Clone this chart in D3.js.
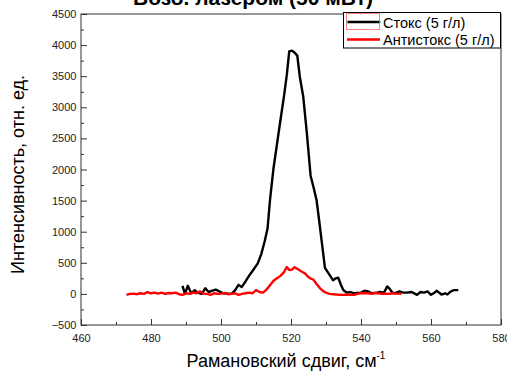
<!DOCTYPE html>
<html>
<head>
<meta charset="utf-8">
<script src="https://cdn.jsdelivr.net/npm/d3@7"></script>
<style>
  html, body { margin: 0; padding: 0; background: #fff; }
  svg { display: block; font-family: "Liberation Sans", Arial, sans-serif; }
</style>
</head>
<body>
<div id="chart"></div>
<script>
// Stokes (5 g/l) — black
const stokesX = [489, 489.7, 490.5, 491.5, 492.5, 493.3, 494.5, 495.5, 496.5, 497.3, 498.5, 499.5, 500.6, 502, 503,
  504, 505, 505.9, 507, 508, 509.2, 510.5, 511.5, 512.5, 513.3, 514, 515, 516, 517, 518, 518.8, 519.5, 520.3, 521,
  521.8, 522.5, 523.5, 524.5, 525.6, 526.5, 527.3, 528, 529, 529.7, 530.5, 531.2, 532, 532.8, 533.5, 534.3, 535,
  536, 537, 538, 539, 540, 541, 542, 543, 544.5, 545.5, 546.5, 547.5, 548.2, 549, 550, 551, 552, 553, 554.5, 556,
  557, 558, 559, 560, 561, 561.6, 563, 564, 564.7, 565.4, 566.5, 567.8];
const stokesY = [130, 0, 130, 10, 60, 20, 0, 90, 30, 50, 70, 40, 10, 5, 0,
  55, 145, 110, 200, 290, 385, 490, 640, 850, 1050, 1510, 2020, 2410, 2800, 3180, 3520, 3900, 3910, 3880,
  3830, 3500, 3170, 2600, 1900, 1700, 1510, 1200, 740, 420, 350, 290, 220, 250, 260, 140, 60,
  20, 30, 10, 15, 20, 50, 40, 10, 20, 30, 15, 120, 80, 20, 15, 40, 20, 20, 30, -15,
  30, 20, 40, -15, 20, 50, -10, 10, -10, 30, 60, 60];

// Anti-Stokes (5 g/l) — red
const antiX = [473, 474, 475, 476, 477, 478, 479, 480, 481, 482, 483, 484, 485, 486, 487, 488, 489, 490, 491, 492,
  493, 494, 495, 496, 497, 498, 499, 500, 501, 502, 503, 504, 505, 506, 507, 508, 509, 510, 511, 512, 513, 514,
  515, 516, 517, 518, 518.8, 519.5, 520.3, 521, 522, 523, 524, 524.8, 525.5, 526.4, 527.3, 528.3, 529.3, 530.2,
  531, 532, 533, 534, 535, 536, 537, 538, 539, 540, 541, 542, 543, 544, 545, 546, 547, 548, 549, 550, 551.5];
const antiY = [-15, 0, 5, -5, 10, 0, 30, 10, 20, 5, 20, 0, 15, 10, 20, -5, -15, 10, 0, 20,
  10, 40, 5, 0, -15, 10, 0, 5, 15, -5, 0, 10, -15, 0, 10, 20, 10, 60, 30, 20, 70, 140,
  210, 250, 290, 350, 430, 385, 390, 430, 395, 360, 330, 280, 250, 230, 160, 90, 40, 15,
  0, -5, -10, -15, -15, -10, -15, -15, 0, 10, 15, 10, 0, 15, 10, 0, 5, 0, 10, 5, 0];

const xTicks = [460, 480, 500, 520, 540, 560, 580];
const yTicks = [-500, 0, 500, 1000, 1500, 2000, 2500, 3000, 3500, 4000, 4500];
const legendLabels = ['Стокс (5 г/л)', 'Антистокс (5 г/л)'];

const width = 507, height = 379;
const margin = { top: 14, right: 6, bottom: 54, left: 81 };

const svg = d3.select('#chart').append('svg')
  .attr('width', width).attr('height', height);

const x = d3.scaleLinear().domain([460, 580]).range([margin.left, width - margin.right]);
const y = d3.scaleLinear().domain([-500, 4500]).range([height - margin.bottom, margin.top]);

// title, clipped by the top edge as in the original
svg.append('text')
  .attr('x', 253).attr('y', 5)
  .attr('text-anchor', 'middle')
  .attr('font-size', 21).attr('font-weight', 700)
  .attr('fill', '#000')
  .text('Возб. лазером (50 мВт)');

const axisColor = '#333';
const fmt = d3.format('d');

// bottom axis, ticks inward
const xAxis = svg.append('g')
  .attr('transform', `translate(0,${y(-500)})`)
  .call(d3.axisBottom(x).tickValues(xTicks).tickFormat(fmt).tickSizeInner(-6).tickSizeOuter(0).tickPadding(9));
const xMinor = svg.append('g')
  .attr('transform', `translate(0,${y(-500)})`)
  .call(d3.axisBottom(x).tickValues(d3.range(470, 580, 20)).tickSizeInner(-3).tickSizeOuter(0).tickFormat(''));

const yAxis = svg.append('g')
  .attr('transform', `translate(${x(460)},0)`)
  .call(d3.axisLeft(y).tickValues(yTicks).tickFormat(fmt).tickSizeInner(-6).tickSizeOuter(0).tickPadding(9));
const yMinor = svg.append('g')
  .attr('transform', `translate(${x(460)},0)`)
  .call(d3.axisLeft(y).tickValues(d3.range(-250, 4500, 500)).tickSizeInner(-3).tickSizeOuter(0).tickFormat(''));

[xAxis, xMinor, yAxis, yMinor].forEach((g) => {
  g.select('.domain').remove();
  g.selectAll('line').attr('stroke', axisColor);
  g.selectAll('text').attr('font-size', 11).attr('fill', '#222')
    .attr('font-family', '"Liberation Sans", Arial, sans-serif');
});
yAxis.selectAll('text').attr('dx', '0.4em');

// frame
svg.append('rect')
  .attr('x', x(460)).attr('y', y(4500))
  .attr('width', x(580) - x(460)).attr('height', y(-500) - y(4500))
  .attr('fill', 'none').attr('stroke', axisColor).attr('stroke-width', 1);

const line = d3.line().x((d) => x(d[0])).y((d) => y(d[1]));

svg.append('path')
  .datum(stokesX.map((v, i) => [v, stokesY[i]]))
  .attr('d', line).attr('fill', 'none')
  .attr('stroke', '#000').attr('stroke-width', 2.4).attr('stroke-linejoin', 'round');

svg.append('path')
  .datum(antiX.map((v, i) => [v, antiY[i]]))
  .attr('d', line).attr('fill', 'none')
  .attr('stroke', '#ff0000').attr('stroke-width', 2.4).attr('stroke-linejoin', 'round');

// legend
const lg = svg.append('g');
lg.append('rect').attr('x', 343.5).attr('y', 12.5).attr('width', 157).attr('height', 35.5)
  .attr('fill', '#fff').attr('stroke', '#000').attr('stroke-width', 1);
lg.append('rect').attr('x', 346.5).attr('y', 13.5).attr('width', 33).attr('height', 16)
  .attr('fill', 'none').attr('stroke', '#ff8080').attr('stroke-width', 1);
const legendColors = ['#000', '#ff0000'];
legendLabels.forEach((label, i) => {
  const ly = 22 + i * 17.5;
  lg.append('line').attr('x1', 347).attr('x2', 380).attr('y1', ly).attr('y2', ly)
    .attr('stroke', legendColors[i]).attr('stroke-width', 2.4);
  lg.append('text').attr('x', 383).attr('y', ly + 5.5)
    .attr('font-size', 14.5).attr('fill', '#000').text(label);
});
lg.append('circle').attr('cx', 347).attr('cy', 22).attr('r', 1).attr('fill', '#3cc');
lg.append('circle').attr('cx', 380).attr('cy', 22).attr('r', 1).attr('fill', '#3cc');

// axis titles
svg.append('text')
  .attr('transform', `translate(24,${(y(4500) + y(-500)) / 2 + 5}) rotate(-90)`)
  .attr('text-anchor', 'middle').attr('font-size', 18).attr('fill', '#000')
  .text('Интенсивность, отн. ед.');

const xt = svg.append('text')
  .attr('x', 286).attr('y', 367)
  .attr('text-anchor', 'middle').attr('font-size', 18).attr('fill', '#000');
xt.append('tspan').text('Рамановский сдвиг, см');
xt.append('tspan').attr('dy', -8).attr('font-size', 10).text('-1');
</script>
</body>
</html>
